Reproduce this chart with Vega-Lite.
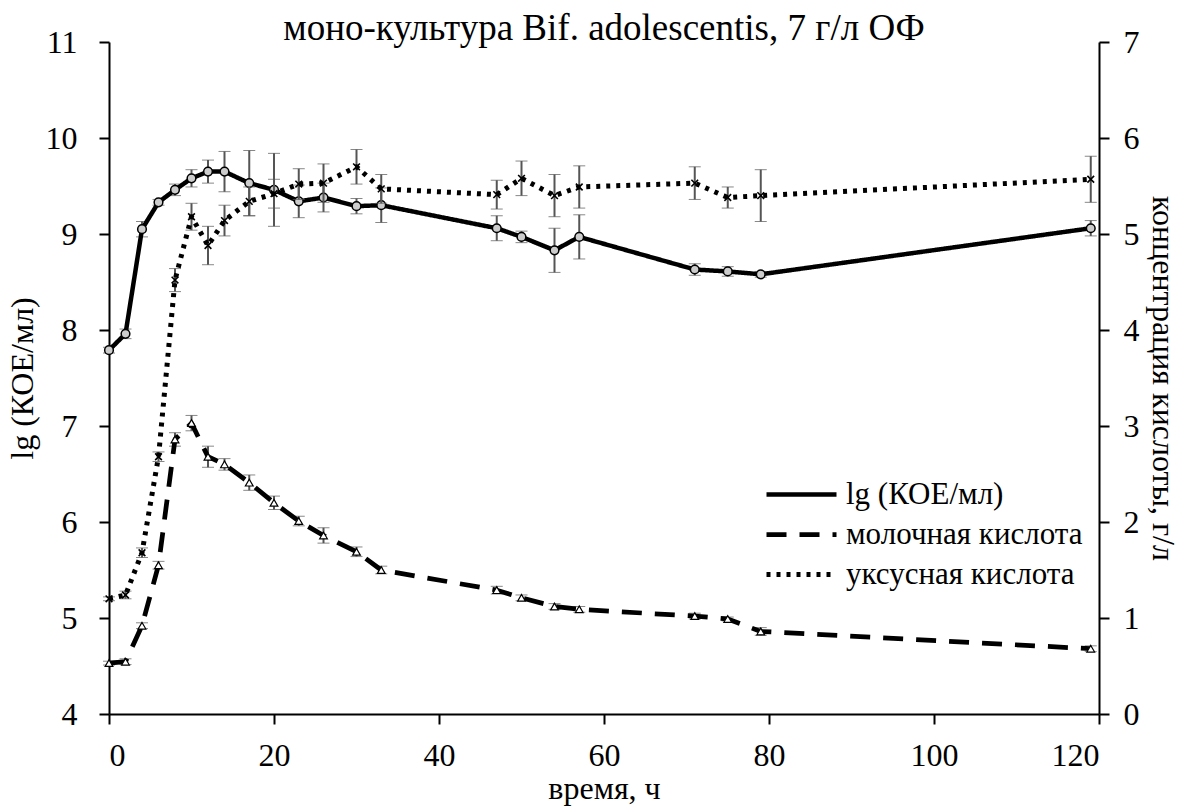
{
  "$schema": "https://vega.github.io/schema/vega-lite/v6.json",
  "autosize": "none",
  "width": 990,
  "height": 672,
  "padding": {"left": 109, "top": 42, "right": 85, "bottom": 98},
  "background": "white",
  "config": {
    "font": "Liberation Serif",
    "view": {"stroke": null},
    "axis": {
      "grid": false,
      "domainColor": "black",
      "domainWidth": 2,
      "tickColor": "black",
      "tickWidth": 2,
      "tickSize": 10,
      "labelFont": "Liberation Serif",
      "labelFontSize": 32,
      "labelColor": "black",
      "titleFont": "Liberation Serif",
      "titleFontSize": 32,
      "titleFontWeight": "normal",
      "titleColor": "black"
    },
    "legend": {
      "orient": "none",
      "legendX": 670,
      "legendY": 430,
      "labelFont": "Liberation Serif",
      "labelFontSize": 31,
      "labelColor": "black",
      "labelLimit": 0,
      "symbolType": "M-1.75,0H1.75",
      "symbolSize": 1600,
      "symbolStrokeWidth": 4,
      "symbolStrokeColor": "black",
      "symbolFillColor": "transparent",
      "rowPadding": 2,
      "labelOffset": 22
    }
  },
  "title": {
    "text": "моно-культура Bif. adolescentis, 7 г/л ОФ",
    "font": "Liberation Serif",
    "fontSize": 37,
    "fontWeight": "normal",
    "color": "black",
    "anchor": "middle",
    "baseline": "alphabetic",
    "offset": 0,
    "dy": 51
  },
  "datasets": {
    "cfu": [
      {"t": 0, "series": "lg (КОЕ/мл)", "v": 7.79, "e": 0.03},
      {"t": 2, "series": "lg (КОЕ/мл)", "v": 7.96, "e": 0.05},
      {"t": 4, "series": "lg (КОЕ/мл)", "v": 9.05, "e": 0.08},
      {"t": 6, "series": "lg (КОЕ/мл)", "v": 9.33, "e": 0.03},
      {"t": 8, "series": "lg (КОЕ/мл)", "v": 9.46, "e": 0.06},
      {"t": 10, "series": "lg (КОЕ/мл)", "v": 9.58, "e": 0.09},
      {"t": 12, "series": "lg (КОЕ/мл)", "v": 9.65, "e": 0.12},
      {"t": 14, "series": "lg (КОЕ/мл)", "v": 9.65, "e": 0.21},
      {"t": 17, "series": "lg (КОЕ/мл)", "v": 9.53, "e": 0.34},
      {"t": 20, "series": "lg (КОЕ/мл)", "v": 9.46, "e": 0.38},
      {"t": 23, "series": "lg (КОЕ/мл)", "v": 9.34, "e": 0.17},
      {"t": 26, "series": "lg (КОЕ/мл)", "v": 9.38, "e": 0.15},
      {"t": 30, "series": "lg (КОЕ/мл)", "v": 9.29, "e": 0.08},
      {"t": 33, "series": "lg (КОЕ/мл)", "v": 9.30, "e": 0.18},
      {"t": 47, "series": "lg (КОЕ/мл)", "v": 9.06, "e": 0.13},
      {"t": 50, "series": "lg (КОЕ/мл)", "v": 8.97, "e": 0.06},
      {"t": 54, "series": "lg (КОЕ/мл)", "v": 8.83, "e": 0.23},
      {"t": 57, "series": "lg (КОЕ/мл)", "v": 8.97, "e": 0.23},
      {"t": 71, "series": "lg (КОЕ/мл)", "v": 8.63, "e": 0.06},
      {"t": 75, "series": "lg (КОЕ/мл)", "v": 8.61, "e": 0.05},
      {"t": 79, "series": "lg (КОЕ/мл)", "v": 8.58, "e": 0.03},
      {"t": 119, "series": "lg (КОЕ/мл)", "v": 9.06, "e": 0.08}
    ],
    "acid": [
      {"t": 0, "series": "молочная кислота", "v": 0.53, "e": 0.02},
      {"t": 2, "series": "молочная кислота", "v": 0.545, "e": 0.03},
      {"t": 4, "series": "молочная кислота", "v": 0.92, "e": 0.03},
      {"t": 6, "series": "молочная кислота", "v": 1.55, "e": 0.04},
      {"t": 8, "series": "молочная кислота", "v": 2.86, "e": 0.07},
      {"t": 10, "series": "молочная кислота", "v": 3.03, "e": 0.08},
      {"t": 12, "series": "молочная кислота", "v": 2.68, "e": 0.11},
      {"t": 14, "series": "молочная кислота", "v": 2.60, "e": 0.06},
      {"t": 17, "series": "молочная кислота", "v": 2.41, "e": 0.08},
      {"t": 20, "series": "молочная кислота", "v": 2.20, "e": 0.07},
      {"t": 23, "series": "молочная кислота", "v": 2.01, "e": 0.05},
      {"t": 26, "series": "молочная кислота", "v": 1.86, "e": 0.08},
      {"t": 30, "series": "молочная кислота", "v": 1.69, "e": 0.05},
      {"t": 33, "series": "молочная кислота", "v": 1.50, "e": 0.04},
      {"t": 47, "series": "молочная кислота", "v": 1.29, "e": 0.04},
      {"t": 50, "series": "молочная кислота", "v": 1.21, "e": 0.03},
      {"t": 54, "series": "молочная кислота", "v": 1.12, "e": 0.03},
      {"t": 57, "series": "молочная кислота", "v": 1.09, "e": 0.03},
      {"t": 71, "series": "молочная кислота", "v": 1.02, "e": 0.03},
      {"t": 75, "series": "молочная кислота", "v": 0.99, "e": 0.02},
      {"t": 79, "series": "молочная кислота", "v": 0.86, "e": 0.04},
      {"t": 119, "series": "молочная кислота", "v": 0.68, "e": 0.03},
      {"t": 0, "series": "уксусная кислота", "v": 1.20, "e": 0.02},
      {"t": 2, "series": "уксусная кислота", "v": 1.24, "e": 0.04},
      {"t": 4, "series": "уксусная кислота", "v": 1.68, "e": 0.05},
      {"t": 6, "series": "уксусная кислота", "v": 2.68, "e": 0.05},
      {"t": 8, "series": "уксусная кислота", "v": 4.52, "e": 0.12},
      {"t": 10, "series": "уксусная кислота", "v": 5.18, "e": 0.14},
      {"t": 12, "series": "уксусная кислота", "v": 4.88, "e": 0.20},
      {"t": 14, "series": "уксусная кислота", "v": 5.14, "e": 0.16},
      {"t": 17, "series": "уксусная кислота", "v": 5.34, "e": 0.15},
      {"t": 20, "series": "уксусная кислота", "v": 5.42, "e": 0.15},
      {"t": 23, "series": "уксусная кислота", "v": 5.52, "e": 0.16},
      {"t": 26, "series": "уксусная кислота", "v": 5.53, "e": 0.20},
      {"t": 30, "series": "уксусная кислота", "v": 5.70, "e": 0.18},
      {"t": 33, "series": "уксусная кислота", "v": 5.47, "e": 0.15},
      {"t": 47, "series": "уксусная кислота", "v": 5.41, "e": 0.15},
      {"t": 50, "series": "уксусная кислота", "v": 5.58, "e": 0.18},
      {"t": 54, "series": "уксусная кислота", "v": 5.40, "e": 0.22},
      {"t": 57, "series": "уксусная кислота", "v": 5.49, "e": 0.22},
      {"t": 71, "series": "уксусная кислота", "v": 5.53, "e": 0.17},
      {"t": 75, "series": "уксусная кислота", "v": 5.38, "e": 0.11},
      {"t": 79, "series": "уксусная кислота", "v": 5.40, "e": 0.27},
      {"t": 119, "series": "уксусная кислота", "v": 5.57, "e": 0.24}
    ]
  },
  "encoding": {
    "x": {
      "field": "t",
      "type": "quantitative",
      "scale": {"domain": [0, 120], "nice": false, "zero": false},
      "axis": {"values": [0, 20, 40, 60, 80, 100, 120], "title": "время, ч", "labelPadding": 16, "titlePadding": 2}
    }
  },
  "layer": [
    {
      "data": {"name": "cfu"},
      "encoding": {
        "y": {
          "field": "v",
          "type": "quantitative",
          "scale": {"domain": [4, 11], "nice": false, "zero": false},
          "axis": {"orient": "left", "values": [4, 5, 6, 7, 8, 9, 10, 11], "title": "lg (КОЕ/мл)", "labelPadding": 22, "titlePadding": 6}
        }
      },
      "layer": [
        {
          "mark": {"type": "errorbar", "ticks": {"size": 12, "color": "#555555", "strokeWidth": 2}, "rule": {"color": "#555555", "strokeWidth": 2}},
          "encoding": {"yError": {"field": "e"}}
        },
        {
          "mark": {"type": "line", "color": "black", "strokeJoin": "round"},
          "encoding": {
            "strokeDash": {
              "field": "series",
              "type": "nominal",
              "scale": {"domain": ["lg (КОЕ/мл)", "молочная кислота", "уксусная кислота"], "range": [[1, 0], [20, 13], [4, 6]]},
              "legend": {"title": null}
            },
            "strokeWidth": {
              "field": "series",
              "type": "nominal",
              "scale": {"domain": ["lg (КОЕ/мл)", "молочная кислота", "уксусная кислота"], "range": [4.5, 5, 4]},
              "legend": null
            }
          }
        },
        {
          "mark": {"type": "point", "shape": "circle", "filled": true, "fill": "#cccccc", "stroke": "black", "strokeWidth": 1.5, "size": 75, "opacity": 1}
        }
      ]
    },
    {
      "data": {"name": "acid"},
      "encoding": {
        "y": {
          "field": "v",
          "type": "quantitative",
          "scale": {"domain": [0, 7], "nice": false, "zero": false},
          "axis": {"orient": "right", "values": [0, 1, 2, 3, 4, 5, 6, 7], "title": "концентрация кислоты, г/л", "labelPadding": 14, "titlePadding": 6}
        }
      },
      "layer": [
        {
          "mark": {"type": "errorbar", "ticks": {"size": 12, "color": "#555555", "strokeWidth": 2}, "rule": {"color": "#555555", "strokeWidth": 2}},
          "encoding": {"yError": {"field": "e"}, "detail": {"field": "series"}}
        },
        {
          "mark": {"type": "line", "color": "black", "strokeJoin": "round"},
          "encoding": {
            "strokeDash": {
              "field": "series",
              "type": "nominal",
              "scale": {"domain": ["lg (КОЕ/мл)", "молочная кислота", "уксусная кислота"], "range": [[1, 0], [20, 13], [4, 6]]},
              "legend": {"title": null}
            },
            "strokeWidth": {
              "field": "series",
              "type": "nominal",
              "scale": {"domain": ["lg (КОЕ/мл)", "молочная кислота", "уксусная кислота"], "range": [4.5, 5, 4]},
              "legend": null
            }
          }
        },
        {
          "transform": [{"filter": "datum.series === 'молочная кислота'"}],
          "mark": {"type": "point", "shape": "triangle-up", "filled": true, "fill": "white", "stroke": "black", "strokeWidth": 1.2, "size": 60, "opacity": 1}
        },
        {
          "transform": [{"filter": "datum.series === 'уксусная кислота'"}],
          "mark": {"type": "point", "shape": "M-1,-1L1,1M-1,1L1,-1", "filled": false, "stroke": "black", "strokeWidth": 1.6, "size": 45, "opacity": 1}
        }
      ]
    }
  ],
  "resolve": {"scale": {"y": "independent"}}
}
